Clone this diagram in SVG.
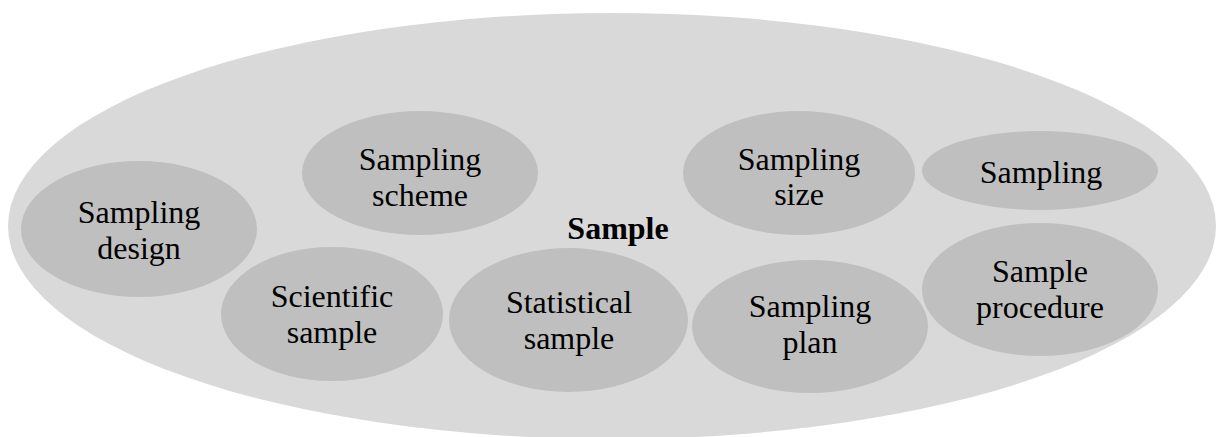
<svg xmlns="http://www.w3.org/2000/svg" width="1218" height="437" viewBox="0 0 1218 437">
<style>
.outer{fill:#d9d9d9}
.node{fill:#bfbfbf}
.lbl{font-family:'Liberation Serif',Tinos,'Times New Roman','DejaVu Serif',serif;font-size:32px;fill:#000;text-anchor:middle}
.title{font-weight:bold}
</style>
<rect width="1218" height="437" fill="#fff"/>
<g id="sample">
<ellipse class="outer" cx="612" cy="226" rx="604" ry="213"/>
<text class="lbl title" x="618" y="239">Sample</text>
</g>
<g id="connectors"/>
<g id="sampling-design">
<ellipse class="node" cx="139" cy="229" rx="118" ry="68"/>
<text class="lbl" x="139" y="223">Sampling</text>
<text class="lbl" x="139" y="259">design</text>
</g>
<g id="sampling-scheme">
<ellipse class="node" cx="420" cy="173" rx="118" ry="62"/>
<text class="lbl" x="420" y="170">Sampling</text>
<text class="lbl" x="420" y="206">scheme</text>
</g>
<g id="scientific-sample">
<ellipse class="node" cx="332" cy="314" rx="111" ry="67"/>
<text class="lbl" x="332" y="307">Scientific</text>
<text class="lbl" x="332" y="343">sample</text>
</g>
<g id="statistical-sample">
<ellipse class="node" cx="568.5" cy="320" rx="119.5" ry="72"/>
<text class="lbl" x="569" y="313">Statistical</text>
<text class="lbl" x="569" y="349">sample</text>
</g>
<g id="sampling-size">
<ellipse class="node" cx="799" cy="173" rx="116" ry="62"/>
<text class="lbl" x="799" y="170">Sampling</text>
<text class="lbl" x="799" y="205">size</text>
</g>
<g id="sampling-plan">
<ellipse class="node" cx="810" cy="326.5" rx="118" ry="66.5"/>
<text class="lbl" x="810" y="317">Sampling</text>
<text class="lbl" x="810" y="353">plan</text>
</g>
<g id="sampling">
<ellipse class="node" cx="1040" cy="170.5" rx="118" ry="39.5"/>
<text class="lbl" x="1041" y="183">Sampling</text>
</g>
<g id="sample-procedure">
<ellipse class="node" cx="1040" cy="289.5" rx="118" ry="66.5"/>
<text class="lbl" x="1040" y="282">Sample</text>
<text class="lbl" x="1040" y="318">procedure</text>
</g>
</svg>
